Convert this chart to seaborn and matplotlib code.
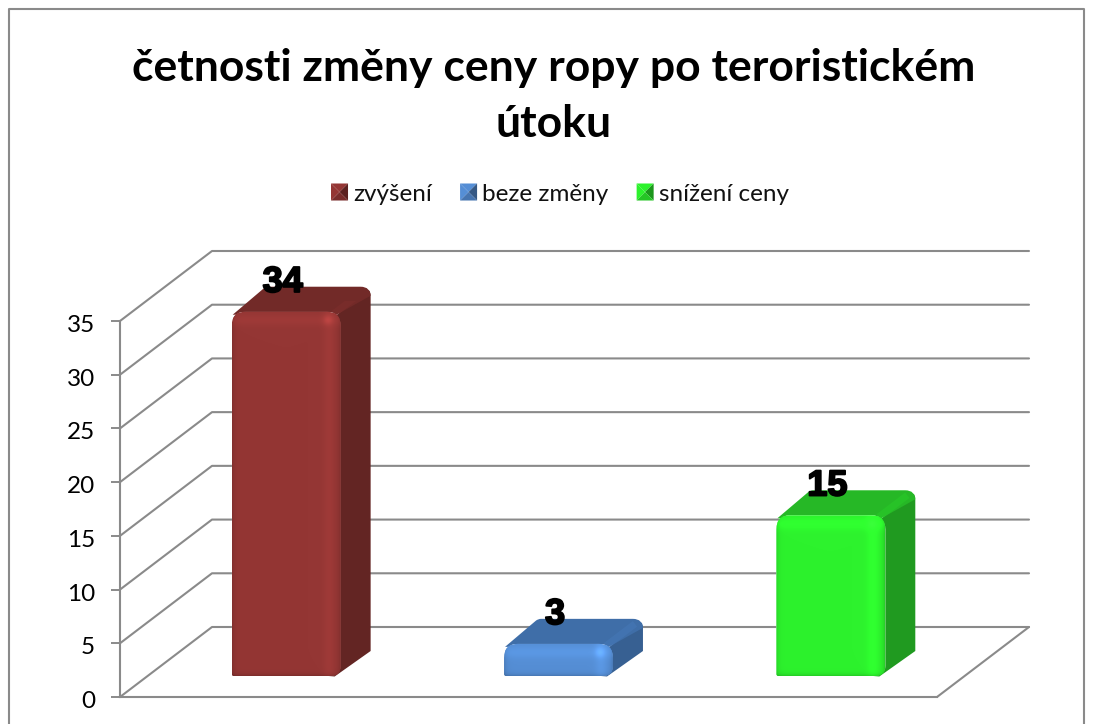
import numpy as np
import pandas as pd
import seaborn as sns
import matplotlib
matplotlib.use("Agg")
import matplotlib.pyplot as plt
from matplotlib.patches import PathPatch, Patch, Polygon
from matplotlib.path import Path
from matplotlib.lines import Line2D
from matplotlib.transforms import Affine2D
from matplotlib.legend_handler import HandlerBase
import matplotlib.patheffects as pe
from matplotlib.colors import to_rgb

title_text = "četnosti změny ceny ropy po teroristickém\nútoku"
categories = ["zvýšení", "beze změny", "snížení ceny"]
values = [34, 3, 15]
front_colors = ["#943634", "#558ED5", "#2DF22D"]
side_colors = ["#632523", "#376092", "#209A20"]
top_colors = ["#722A28", "#3F6EA8", "#26B826"]
y_ticks = [0, 5, 10, 15, 20, 25, 30, 35]

W, H = 1093, 724
GRID = "#8A8A8A"
sns.set_theme(style="white")
plt.rcParams["font.family"] = ["Lato", "DejaVu Sans"]

fig = plt.figure(figsize=(W / 100, H / 100), dpi=100, facecolor="white")
px = Affine2D().scale(1, -1).translate(0, H)  # y-down pixel frame


def rect(l, t, r, b):
    return [l / W, 1 - b / H, (r - l) / W, (b - t) / H]


# outer chart frame
fig.add_artist(Line2D(np.array([9, 9, 1084, 1084]) / W,
                      1 - np.array([724, 9, 9, 724]) / H,
                      color=GRID, lw=1.5, transform=fig.transFigure))

# front plane of the value axis
ax = fig.add_axes(rect(120, 321, 937, 697))
ax.set_facecolor("none")
ax.set_xlim(-0.5, 2.5)
ax.set_ylim(0, 35)
ax.set_xticks([])
ax.set_yticks(y_ticks)
ax.tick_params(axis="y", length=6.5, width=1.4, color=GRID, labelsize=17.5,
               labelcolor="black", pad=11.5, left=True)
for s in ["top", "right"]:
    ax.spines[s].set_visible(False)
for s in ["left", "bottom"]:
    ax.spines[s].set_color(GRID)
    ax.spines[s].set_linewidth(1.5)
for lab in ax.get_yticklabels():
    lab.set_transform(lab.get_transform() + Affine2D().translate(0, -2.5))

DX, DY = 92, 70
fig.canvas.draw()
to_px = ax.transData + px.inverted()
for v in y_ticks:
    (x0, y0), (x1, _) = to_px.transform([(-0.5, v), (2.5, v)])
    ax.plot([x0, x0 + DX, x1 + DX], [y0, y0 - DY, y0 - DY], color=GRID, lw=1.5,
            transform=px, clip_on=False, zorder=1)
(xa, ya) = to_px.transform((2.5, 0))
ax.plot([xa, xa + DX], [ya, ya - DY], color=GRID, lw=1.5, transform=px, clip_on=False, zorder=1)

# plane of the bars, set back into the chart's depth
bx = fig.add_axes(rect(150, 301, 967, 676))
bx.set_facecolor("none")
df = pd.DataFrame({"kategorie": categories, "cetnost": values})
sns.barplot(data=df, x="kategorie", y="cetnost", hue="kategorie", order=categories,
            hue_order=categories, palette=front_colors, width=0.4, dodge=False,
            legend=False, saturation=1, ax=bx)
bx.set_xlim(-0.5, 2.5)
bx.set_ylim(0, 35)
bx.axis("off")
fig.canvas.draw()


def rounded(points, radii):
    """Closed path through points with rounded corners."""
    pts = [np.array(p, float) for p in points]
    n = len(pts)
    verts, codes = [], []
    for i in range(n):
        p, a, b = pts[i], pts[i - 1], pts[(i + 1) % n]
        r = max(radii[i], 0.01)
        u = (a - p) / np.linalg.norm(a - p)
        v = (b - p) / np.linalg.norm(b - p)
        verts.append(p + u * r)
        codes.append(Path.LINETO if i else Path.MOVETO)
        verts += [p, p + v * r]
        codes += [Path.CURVE3, Path.CURVE3]
    verts.append(verts[0])
    codes.append(Path.CLOSEPOLY)
    return Path(verts, codes)


SX, SY = 30, 25
bar_px = bx.transData + px.inverted()
for i, container in enumerate(bx.containers):
    bar = container[0]
    c = np.array(to_rgb(front_colors[i]))
    (l, b), (r, t) = bar_px.transform([(bar.get_x(), 0), (bar.get_x() + bar.get_width(), bar.get_height())])

    side = rounded([(r - 12, t + 10), (r + SX, t - SY), (r + SX, b - SY), (r - 6, b + 0.5), (r - 12, b)],
                   [0, 9, 0, 0, 0])
    bx.add_patch(PathPatch(side, transform=px, fc=side_colors[i], ec="none", zorder=1, clip_on=False))
    top = rounded([(l + 1, t + 3), (r - 4, t + 3), (r + SX, t - SY + 9), (r + SX, t - SY), (l + 34, t - SY)],
                  [0, 0, 0, 10, 3])
    bx.add_patch(PathPatch(top, transform=px, fc=top_colors[i], ec="none", zorder=1.2, clip_on=False))
    band = Line2D([r - 7, r + SX - 8], [t + 2, t - SY + 5], color=c, alpha=0.18, lw=5,
                  transform=px, zorder=1.5, solid_capstyle="butt")
    bx.add_line(band)

    clip = PathPatch(rounded([(l, t), (r, t), (r, b), (l, b)], [14, 14, 10, 2]),
                     transform=px, fc="none", ec="none")
    bx.add_patch(clip)
    bar.set_clip_path(clip)
    bar.set_zorder(2)

    w, h = int(round(r - l)), int(round(b - t))
    yy, xx = np.mgrid[0:h, 0:w] + 0.5
    a = (0.07 * np.exp(-((yy - 9) / 6) ** 2)
         + 0.07 * np.exp(-((w - xx - 12) / 6) ** 2)
         - 0.14 * np.exp(-xx / 2.5)
         - 0.16 * np.exp(-(w - xx) / 2.5)
         - 0.18 * np.exp(-(h - yy) / 2)
         + 0.14 * np.exp(-((xx - (w - 13)) ** 2 + (yy - 9) ** 2) / 22))
    img = np.clip(c[None, None, :] * (1 + a[..., None]), 0, 1)
    im = bx.imshow(img, extent=(l, r, b, t), origin="upper", aspect="auto",
                   transform=px, zorder=3, interpolation="bilinear")
    im.set_clip_path(clip)

    labels = bx.bar_label(container, padding=9, fontsize=26, color="black", zorder=6,
                          family="Liberation Sans", fontweight="bold")
    for lab in labels:
        lab.xyann = (-2.5, 8.5)
        lab.set_path_effects([pe.withStroke(linewidth=1.4, foreground="black")])

bx.set_xlim(-0.5, 2.5)
bx.set_ylim(0, 35)

fig.text(554 / W, 1 - 96 / H, title_text, ha="center", va="center", fontsize=32,
         fontweight="bold", color="black", linespacing=1.5)


class Pyramid(HandlerBase):
    def create_artists(self, legend, orig, xd, yd, width, height, fontsize, trans):
        c = np.array(to_rgb(orig.get_facecolor()[:3]))
        x0, y0 = xd * -1, yd * -1
        s = height
        cx, cy = x0 + width / 2, y0 + s / 2
        A, B, C, D = (x0, y0), (x0 + width, y0), (x0 + width, y0 + s), (x0, y0 + s)
        faces = [((D, C), 1.0), ((A, D), 1.0), ((C, B), 0.62), ((A, B), 0.82)]
        return [Polygon([p, q, (cx, cy)], fc=np.clip(c * f, 0, 1), ec="none", transform=trans)
                for (p, q), f in faces]


handles = [Patch(facecolor=col) for col in front_colors]
fig.legend(handles, categories, loc="center", bbox_to_anchor=(560 / W, 1 - 194 / H), ncol=3,
           frameon=False, fontsize=17.5, handler_map={Patch: Pyramid()}, handlelength=0.7,
           handleheight=0.7, handletextpad=0.22, columnspacing=1.15, labelcolor="#111111")

fig.savefig("out.png", dpi=100, facecolor="white")
